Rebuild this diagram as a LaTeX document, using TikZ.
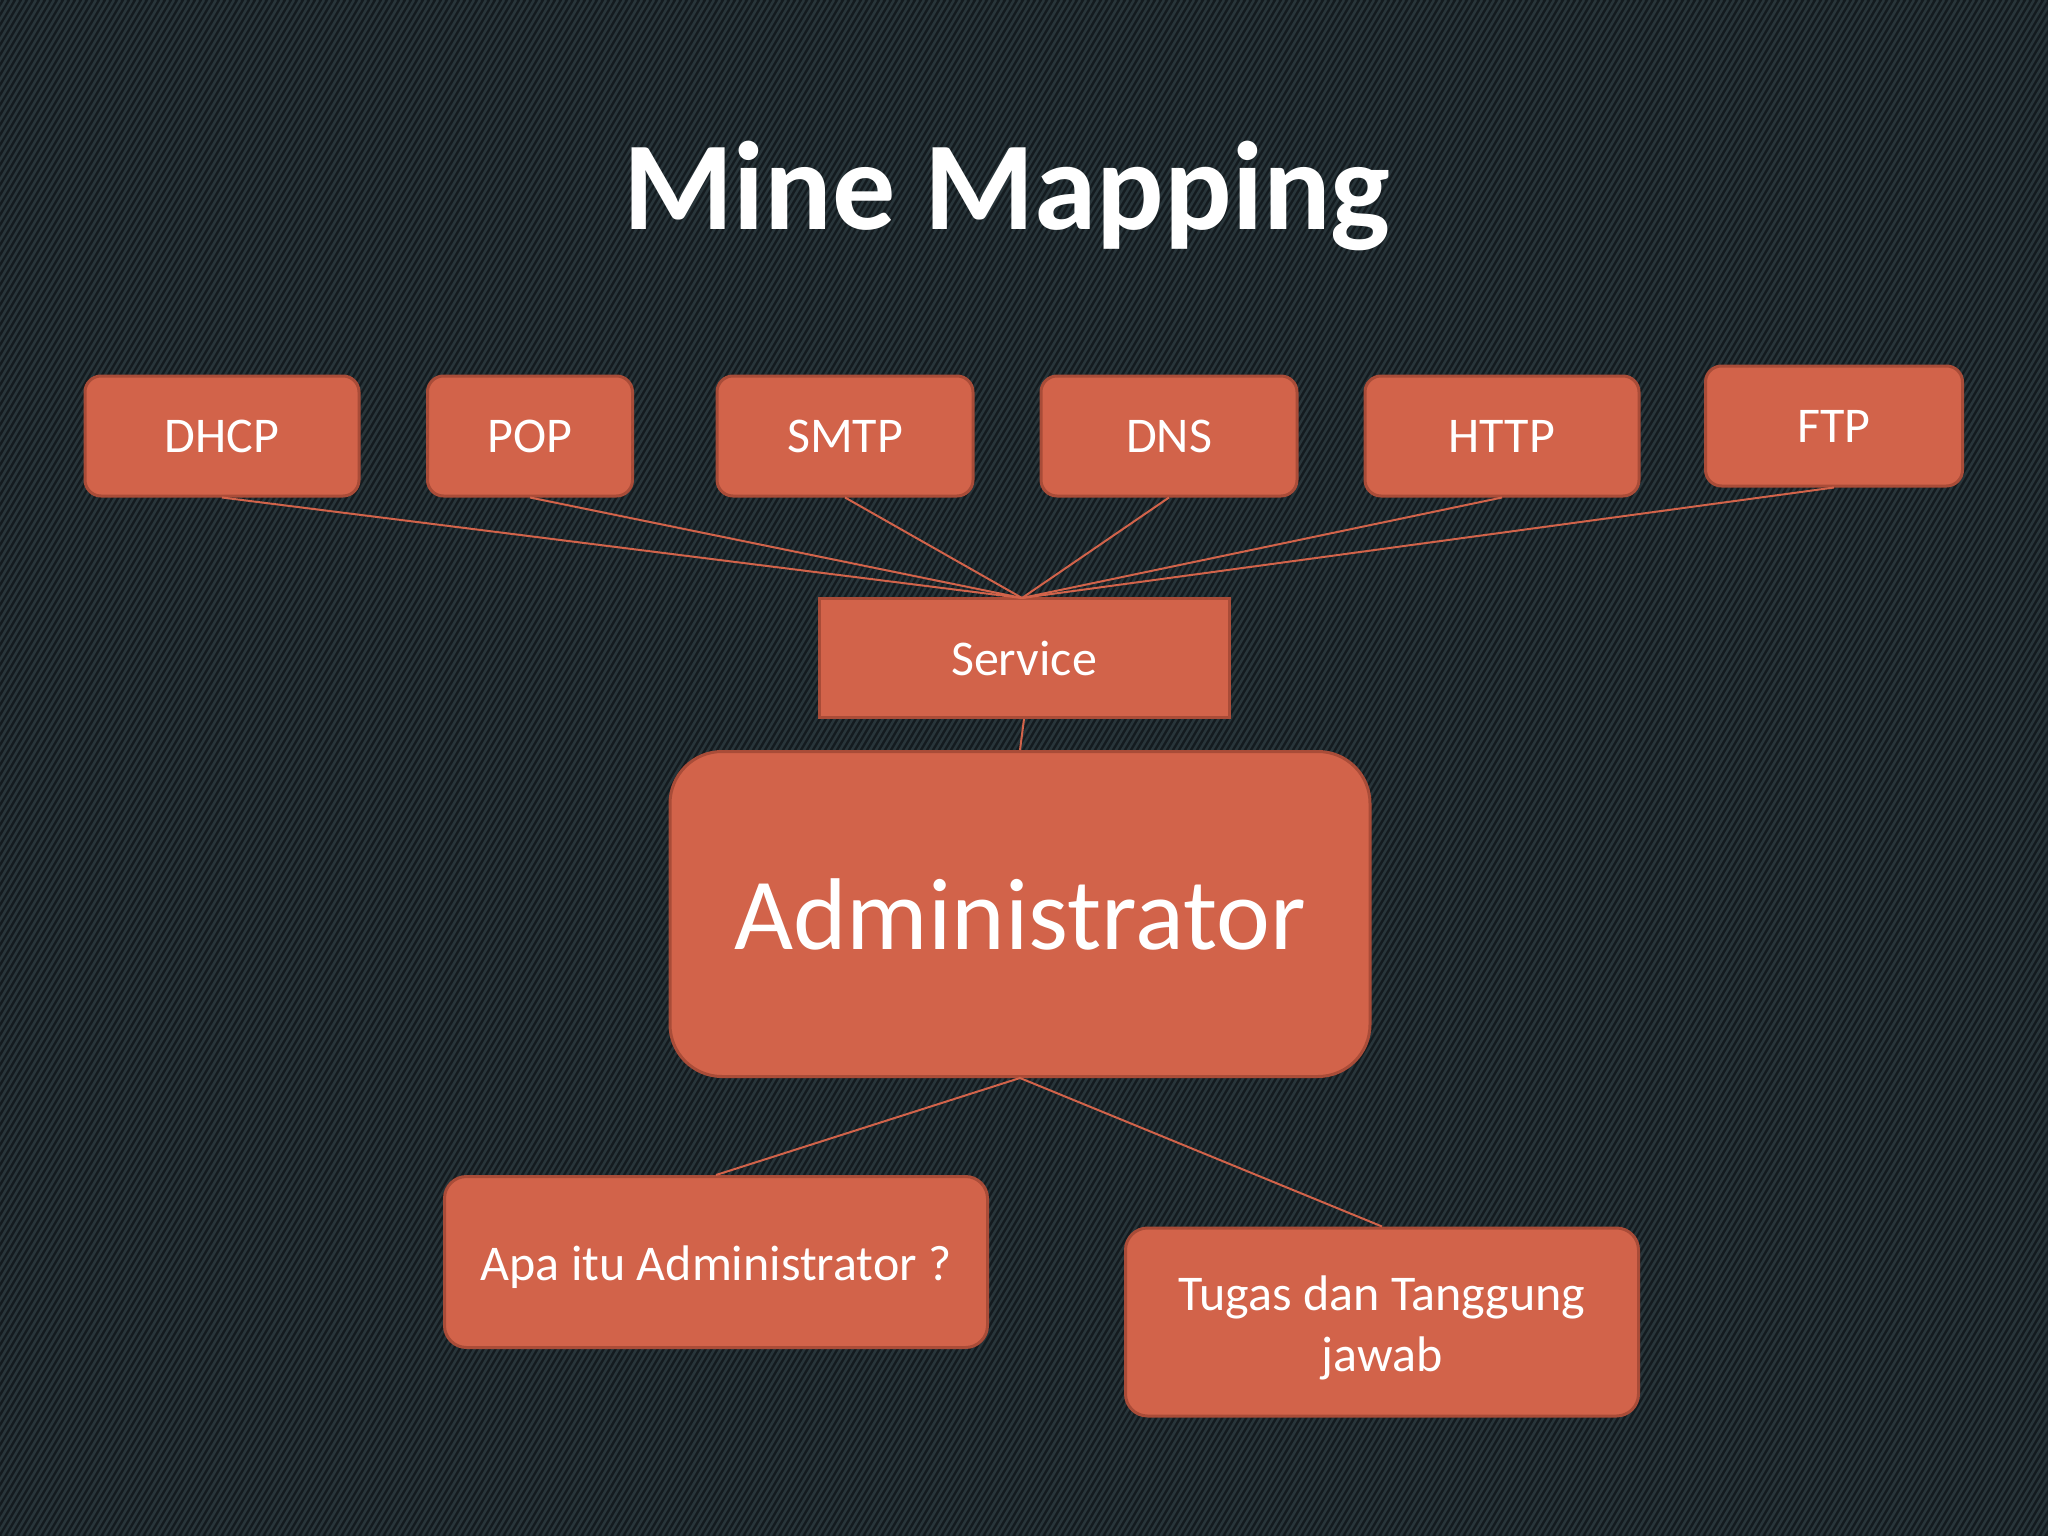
\documentclass[tikz,border=0pt]{standalone}
\usepackage{fontspec}
\setmainfont{Carlito}
\definecolor{bgdark}{HTML}{141B1F}
\definecolor{stripe}{HTML}{28353A}
\definecolor{boxfill}{HTML}{D2634A}
\definecolor{boxline}{HTML}{A94C38}
\begin{document}
\begin{tikzpicture}[x=1pt,y=-1pt,
  topbox/.style={draw=boxline,line width=3pt,fill=boxfill,rounded corners=16pt,inner sep=0pt,
    text=white,font=\fontsize{50}{60}\selectfont,minimum height=120pt},
  servbox/.style={draw=boxline,line width=3pt,fill=boxfill,inner sep=0pt,
    text=white,font=\fontsize{50}{60}\selectfont,minimum height=119pt,minimum width=410pt},
  adminbox/.style={draw=boxline,line width=3pt,fill=boxfill,rounded corners=52pt,inner sep=0pt,
    text=white,font=\fontsize{102}{120}\selectfont,minimum height=325pt,minimum width=700pt},
  botbox/.style={draw=boxline,line width=3pt,fill=boxfill,rounded corners=22pt,inner sep=0pt,
    text=white,font=\fontsize{50}{61}\selectfont,align=center},
  link/.style={draw=boxfill,line width=2pt}]
\fill[bgdark] (0,0) rectangle (2048,1536);
\useasboundingbox (0,0) rectangle (2048,1536);
\begin{scope}
\clip (0,0) rectangle (2048,1536);
\foreach \i in {0,6,...,3600} {
  \draw[stripe,line width=2.5pt] (\i-1536*0.6,1536) -- (\i,0);
}
\end{scope}
\node[text=white,font=\fontsize{126}{150}\bfseries\selectfont] (title) at (1007,196) {Mine Mapping};
\node[topbox,minimum width=274pt] (dhcp) at (222,436) {DHCP};
\node[topbox,minimum width=205pt] (pop) at (530,436) {POP};
\node[topbox,minimum width=256pt] (smtp) at (845,436) {SMTP};
\node[topbox,minimum width=256pt] (dns) at (1169,436) {DNS};
\node[topbox,minimum width=274pt] (http) at (1502,436) {HTTP};
\node[topbox,minimum width=257pt] (ftp) at (1834,426) {FTP};
\node[servbox] (service) at (1024,658) {Service};
\node[adminbox] (admin) at (1020,914) {Administrator};
\node[botbox,minimum width=543pt,minimum height=171pt] (apa) at (716,1262) {};
\node[text=white,font=\fontsize{50}{61}\selectfont,inner sep=0pt] (apat) at (716,1267) {Apa itu Administrator ?};
\node[botbox,minimum width=513pt,minimum height=188pt] (tugas) at (1382,1322) {};
\node[text=white,font=\fontsize{50}{61}\selectfont,align=center,inner sep=0pt] (tugast) at (1382,1328) {Tugas dan Tanggung\\jawab};
\coordinate (sv) at (1022,598);
\foreach \n in {dhcp,pop,smtp,dns,http,ftp} {
  \draw[link] (\n.south) -- (sv);
}
\draw[link] (service.south) -- (admin.north);
\draw[link] (admin.south) -- (apa.north);
\draw[link] (admin.south) -- (tugas.north);
\end{tikzpicture}
\end{document}
